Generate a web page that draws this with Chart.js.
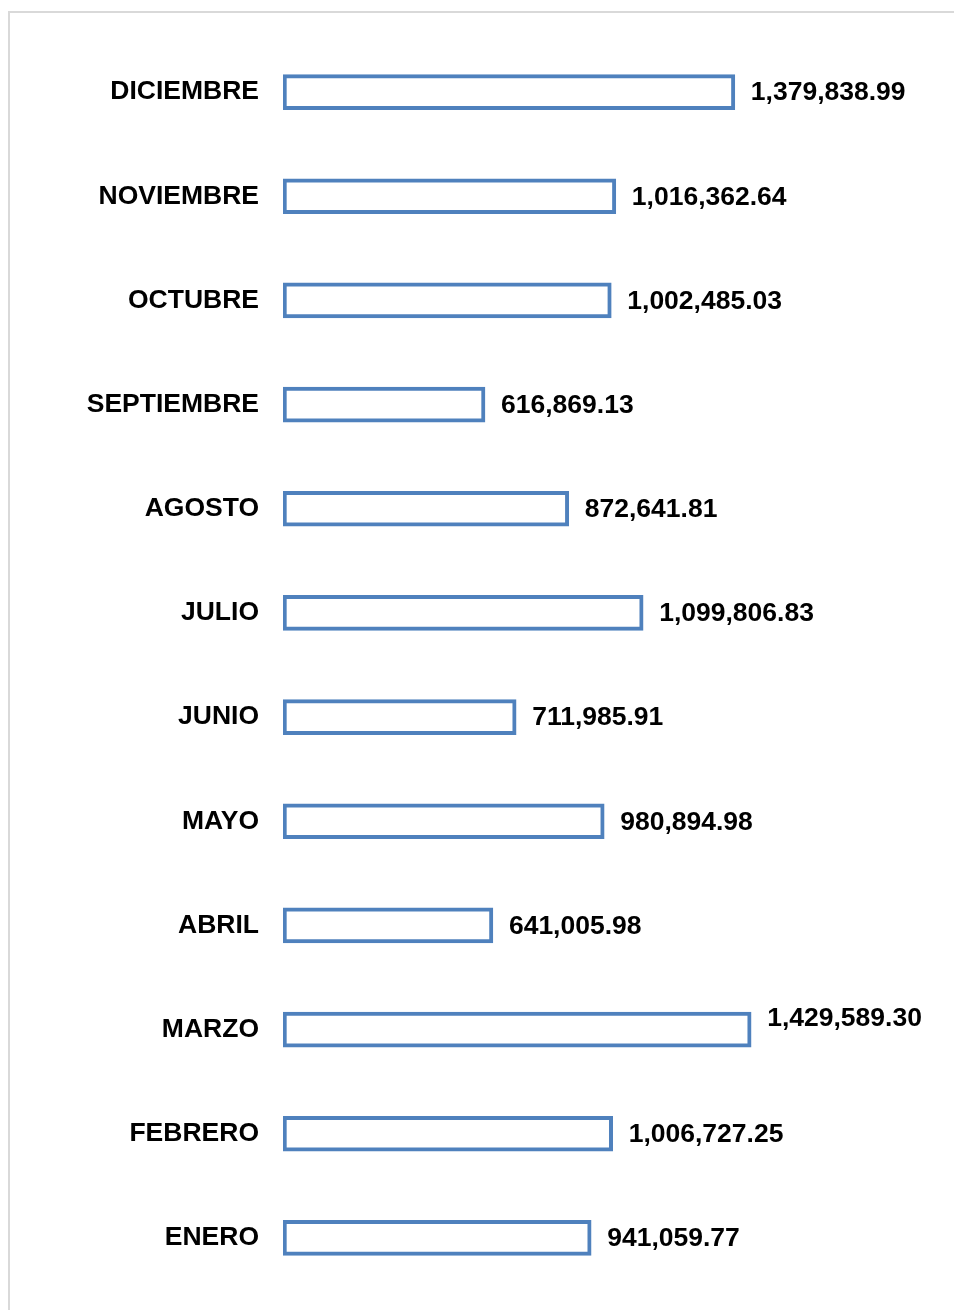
<!DOCTYPE html>
<html>
<head>
<meta charset="utf-8">
<script src="https://cdn.jsdelivr.net/npm/chart.js@4.4.0/dist/chart.umd.min.js"></script>
<style>
  body { margin: 0; background: #fff; }
  #marco { position: absolute; left: 8px; top: 11px; width: 960px; height: 1320px;
           border-left: 2px solid #d9d9d9; border-top: 2px solid #d9d9d9; }
  #grafico { position: absolute; left: 0; top: 0; }
</style>
</head>
<body>
<div id="marco"></div>
<canvas id="grafico" width="954" height="1310"></canvas>
<script>
const meses = ["ENERO", "FEBRERO", "MARZO", "ABRIL", "MAYO", "JUNIO",
  "JULIO", "AGOSTO", "SEPTIEMBRE", "OCTUBRE", "NOVIEMBRE", "DICIEMBRE"]
const valores = [941059.77, 1006727.25, 1429589.30, 641005.98, 980894.98, 711985.91,
  1099806.83, 872641.81, 616869.13, 1002485.03, 1016362.64, 1379838.99]
const maximoEje = 1988000

const fuente = { family: "'Liberation Sans', Arial, sans-serif", size: 26.5, weight: "bold" }

function formatear(v) {
  return v.toLocaleString("en-US", { minimumFractionDigits: 2, maximumFractionDigits: 2 })
}

// escribe el valor al lado de cada barra
const etiquetas = {
  id: "etiquetas",
  afterDatasetsDraw(chart) {
    const ctx = chart.ctx
    const meta = chart.getDatasetMeta(0)
    const mayor = Math.max(...valores)
    ctx.save()
    ctx.font = "bold 26.5px 'Liberation Sans', Arial, sans-serif"
    ctx.fillStyle = "#000"
    ctx.textBaseline = "middle"
    ctx.textAlign = "left"
    meta.data.forEach((barra, i) => {
      let y = barra.y
      if (valores[i] === mayor) y -= 12 // la mayor queda un poco arriba
      ctx.fillText(formatear(valores[i]), barra.x + 16, y + 1)
    })
    ctx.restore()
  }
}

const grafico = new Chart(document.getElementById("grafico"), {
  type: "bar",
  data: {
    labels: meses,
    datasets: [{
      data: valores,
      backgroundColor: "#ffffff",
      borderColor: "#4F81BD",
      borderWidth: 4,
      borderSkipped: false,
      barThickness: 35
    }]
  },
  options: {
    indexAxis: "y",
    responsive: false,
    animation: false,
    layout: { padding: { top: 40, bottom: 20, left: 0, right: 20 } },
    plugins: { legend: { display: false }, tooltip: { enabled: false } },
    scales: {
      x: { display: false, min: 0, max: maximoEje },
      y: {
        reverse: true,
        grid: { display: false, drawTicks: false },
        border: { display: false },
        ticks: { color: "#000", font: fuente, padding: 24 },
        afterFit: (escala) => {
          escala.width = 283
          escala.paddingTop = 0
          escala.paddingBottom = 0
        }
      }
    }
  },
  plugins: [etiquetas]
})
</script>
</body>
</html>
